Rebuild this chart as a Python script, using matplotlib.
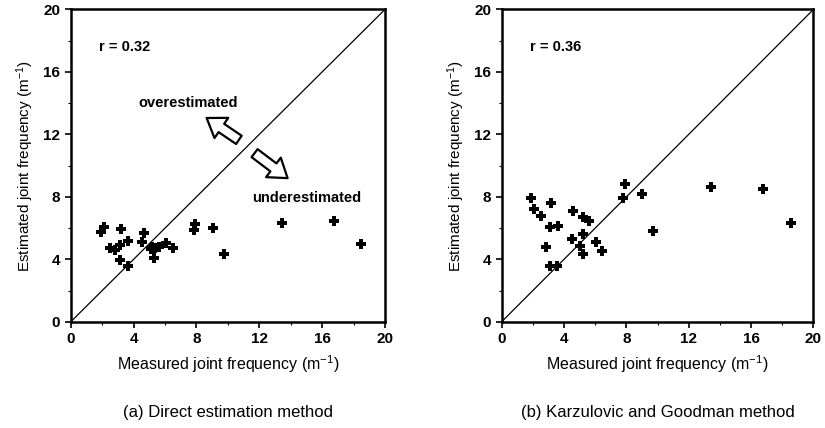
"""Measured vs estimated joint frequency, two methods side by side."""

import matplotlib
matplotlib.use('Agg')
import matplotlib.pyplot as plt
from matplotlib.ticker import MultipleLocator

plt.rcParams['font.family'] = ['Liberation Sans', 'DejaVu Sans']
plt.rcParams['mathtext.default'] = 'regular'

# (a) direct estimation
direct_x = [1.95, 2.12, 3.22, 2.52, 2.80, 3.16, 3.65, 3.16, 3.65, 4.65, 4.56,
            5.08, 5.35, 5.27, 5.63, 6.06, 6.48, 7.91, 7.85, 9.08, 9.76, 13.45,
            16.75, 18.45, 5.18]
direct_y = [5.75, 6.10, 5.95, 4.72, 4.57, 4.93, 5.18, 3.97, 3.60, 5.68, 5.14,
            4.65, 4.72, 4.08, 4.82, 5.04, 4.72, 6.27, 5.89, 6.00, 4.36, 6.32,
            6.46, 4.97, 4.78]

# (b) Karzulovic and Goodman
kg_x = [1.88, 2.07, 2.50, 3.19, 3.10, 3.61, 2.82, 3.10, 3.57, 4.60, 5.20,
        5.60, 4.51, 5.22, 5.01, 5.24, 6.03, 6.44, 7.91, 7.81, 9.03, 9.73,
        13.41, 16.75, 18.57]
kg_y = [7.90, 7.21, 6.77, 7.64, 6.08, 6.13, 4.78, 3.59, 3.59, 7.09, 6.70,
        6.45, 5.29, 5.61, 4.85, 4.35, 5.08, 4.51, 8.80, 7.96, 8.18, 5.81,
        8.62, 8.48, 6.30]

TICKS = [0, 4, 8, 12, 16, 20]


def style(ax, xs, ys, r_text, caption):
    ax.plot([0, 20], [0, 20], color='black', lw=0.9)
    ax.plot(xs, ys, linestyle='none', marker='P', markersize=6.5,
            color='black', markeredgewidth=0)
    ax.set_xlim(0, 20)
    ax.set_ylim(0, 20)
    ax.set_xticks(TICKS)
    ax.set_yticks(TICKS)
    ax.xaxis.set_minor_locator(MultipleLocator(2))
    ax.yaxis.set_minor_locator(MultipleLocator(2))
    ax.tick_params(which='major', direction='out', length=4, width=1.2,
                   labelsize=11)
    ax.tick_params(which='minor', direction='out', length=2, width=0.8)
    for lab in ax.get_xticklabels() + ax.get_yticklabels():
        lab.set_fontweight('bold')
    for sp in ax.spines.values():
        sp.set_linewidth(1.8)
    ax.set_xlabel('Measured joint frequency (m$^{-1}$)', fontsize=11.5,
                  labelpad=5)
    ax.set_ylabel('Estimated joint frequency (m$^{-1}$)', fontsize=11,
                  labelpad=5)
    ax.text(1.8, 17.6, r_text, fontsize=10.5, fontweight='bold',
            va='center')
    ax.text(0.5, -0.29, caption, transform=ax.transAxes, ha='center',
            va='center', fontsize=12)


fig = plt.figure(figsize=(8.25, 4.28), dpi=100)
ax1 = fig.add_axes([0.0857, 0.248, 0.381, 0.730])
ax2 = fig.add_axes([0.608, 0.248, 0.378, 0.730])

style(ax1, direct_x, direct_y, 'r = 0.32', '(a) Direct estimation method')
style(ax2, kg_x, kg_y, 'r = 0.36', '(b) Karzulovic and Goodman method')

arrow = dict(arrowstyle='simple,head_length=0.8,head_width=1.1,tail_width=0.45',
             fc='white', ec='black', lw=1.6, shrinkA=0, shrinkB=0,
             mutation_scale=16)
ax1.annotate('', xy=(8.65, 13.05), xytext=(10.7, 11.65), arrowprops=arrow)
ax1.annotate('', xy=(13.8, 9.2), xytext=(11.7, 10.8), arrowprops=arrow)
ax1.text(7.5, 14.0, 'overestimated', ha='center', va='center',
         fontsize=10.5, fontweight='bold')
ax1.text(15.0, 7.9, 'underestimated', ha='center', va='center',
         fontsize=10.5, fontweight='bold')

fig.savefig('out.png', dpi=100)
